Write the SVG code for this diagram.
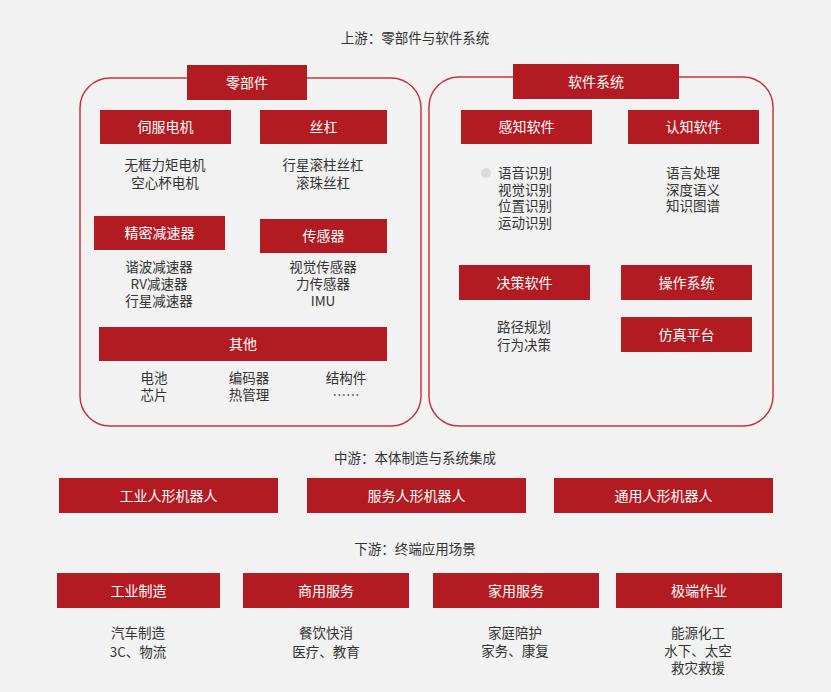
<svg xmlns="http://www.w3.org/2000/svg" width="831" height="692" viewBox="0 0 831 692">
<style>
  text { font-family: "Noto Sans CJK SC", "Noto Sans", sans-serif; }
  .hdr rect { fill: #b31b22; }
  .hdr text { fill: #ffffff; font-size: 14px; text-anchor: middle; dominant-baseline: central; }
  .desc { fill: #333333; font-size: 13.5px; text-anchor: middle; dominant-baseline: central; }
  .title { fill: #333333; font-size: 13.5px; text-anchor: middle; dominant-baseline: central; }
  .group { fill: none; stroke: #c4363c; stroke-width: 1.5; }
</style>
<rect x="0" y="0" width="831" height="692" fill="#f2f2f2"/>

<g id="connectors"></g>

<text class="title" x="415" y="37">上游：零部件与软件系统</text>
<text class="title" x="415" y="457">中游：本体制造与系统集成</text>
<text class="title" x="415" y="548">下游：终端应用场景</text>

<g id="group-parts">
  <rect class="group" x="80" y="78" width="341" height="348" rx="30"/>
</g>
<g id="group-software">
  <rect class="group" x="429" y="77" width="344" height="349" rx="30"/>
</g>

<g id="n-parts" class="hdr"><rect x="187" y="65" width="120" height="35"/><text x="247" y="81.5">零部件</text></g>
<g id="n-software" class="hdr"><rect x="513" y="64" width="166" height="35"/><text x="596" y="80.5">软件系统</text></g>

<g id="n-servo" class="hdr"><rect x="100" y="110" width="131" height="34"/><text x="165.5" y="126">伺服电机</text></g>
<g id="d-servo"><text class="desc" x="165" y="164">无框力矩电机<tspan x="165" dy="18">空心杯电机</tspan></text></g>

<g id="n-screw" class="hdr"><rect x="260" y="110" width="127" height="34"/><text x="323.5" y="126">丝杠</text></g>
<g id="d-screw"><text class="desc" x="323" y="164">行星滚柱丝杠<tspan x="323" dy="18">滚珠丝杠</tspan></text></g>

<g id="n-reducer" class="hdr"><rect x="94" y="216" width="131" height="34"/><text x="159.5" y="232">精密减速器</text></g>
<g id="d-reducer"><text class="desc" x="159" y="266">谐波减速器<tspan x="159" dy="17">RV减速器</tspan><tspan x="159" dy="17">行星减速器</tspan></text></g>

<g id="n-sensor" class="hdr"><rect x="260" y="219" width="127" height="34"/><text x="323.5" y="235">传感器</text></g>
<g id="d-sensor"><text class="desc" x="323" y="266">视觉传感器<tspan x="323" dy="17">力传感器</tspan><tspan x="323" dy="17">IMU</tspan></text></g>

<g id="n-other" class="hdr"><rect x="99" y="327" width="288" height="34"/><text x="243" y="343">其他</text></g>
<g id="d-other">
  <text class="desc" x="154" y="377">电池<tspan x="154" dy="17">芯片</tspan></text>
  <text class="desc" x="249" y="377">编码器<tspan x="249" dy="17">热管理</tspan></text>
  <text class="desc" x="346" y="377">结构件<tspan x="346" dy="17">……</tspan></text>
</g>

<g id="n-perception" class="hdr"><rect x="461" y="110" width="131" height="34"/><text x="526.5" y="126">感知软件</text></g>
<g id="d-perception">
  <circle cx="486" cy="173" r="5" fill="#dcdcdc"/>
  <text class="desc" x="525" y="172">语音识别<tspan x="525" dy="16.5">视觉识别</tspan><tspan x="525" dy="16.5">位置识别</tspan><tspan x="525" dy="16.5">运动识别</tspan></text>
</g>

<g id="n-cognition" class="hdr"><rect x="628" y="110" width="131" height="34"/><text x="693.5" y="126">认知软件</text></g>
<g id="d-cognition"><text class="desc" x="693" y="172">语言处理<tspan x="693" dy="16.5">深度语义</tspan><tspan x="693" dy="16.5">知识图谱</tspan></text></g>

<g id="n-decision" class="hdr"><rect x="459" y="265" width="131" height="35"/><text x="524.5" y="281.5">决策软件</text></g>
<g id="d-decision"><text class="desc" x="524" y="326">路径规划<tspan x="524" dy="18">行为决策</tspan></text></g>

<g id="n-os" class="hdr"><rect x="621" y="265" width="131" height="35"/><text x="686.5" y="281.5">操作系统</text></g>
<g id="n-sim" class="hdr"><rect x="621" y="317" width="131" height="35"/><text x="686.5" y="333.5">仿真平台</text></g>

<g id="n-industrial-robot" class="hdr"><rect x="59" y="478" width="219" height="35"/><text x="168.5" y="494.5">工业人形机器人</text></g>
<g id="n-service-robot" class="hdr"><rect x="307" y="478" width="219" height="35"/><text x="416.5" y="494.5">服务人形机器人</text></g>
<g id="n-general-robot" class="hdr"><rect x="554" y="478" width="219" height="35"/><text x="663.5" y="494.5">通用人形机器人</text></g>

<g id="n-manufacturing" class="hdr"><rect x="57" y="573" width="163" height="35"/><text x="138.5" y="589.5">工业制造</text></g>
<g id="d-manufacturing"><text class="desc" x="138" y="632">汽车制造<tspan x="138" dy="19">3C、物流</tspan></text></g>

<g id="n-commercial" class="hdr"><rect x="243" y="573" width="166" height="35"/><text x="326" y="589.5">商用服务</text></g>
<g id="d-commercial"><text class="desc" x="326" y="632">餐饮快消<tspan x="326" dy="19">医疗、教育</tspan></text></g>

<g id="n-home" class="hdr"><rect x="433" y="573" width="166" height="35"/><text x="516" y="589.5">家用服务</text></g>
<g id="d-home"><text class="desc" x="515" y="632">家庭陪护<tspan x="515" dy="18">家务、康复</tspan></text></g>

<g id="n-extreme" class="hdr"><rect x="616" y="573" width="166" height="35"/><text x="699" y="589.5">极端作业</text></g>
<g id="d-extreme"><text class="desc" x="698" y="632">能源化工<tspan x="698" dy="18">水下、太空</tspan><tspan x="698" dy="17">救灾救援</tspan></text></g>
</svg>
